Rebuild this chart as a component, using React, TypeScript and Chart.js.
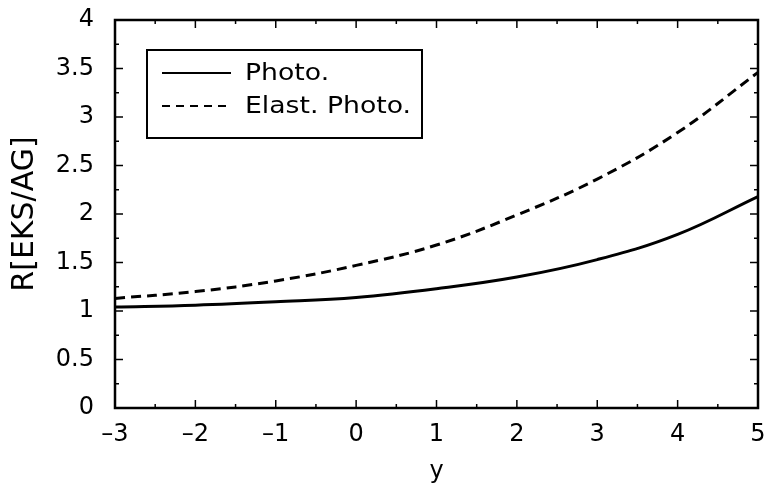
import React, { useEffect, useRef } from "react";
import { Chart, registerables } from "chart.js";

Chart.register(...registerables);

const yRapidity = [-3, -2, -1, 0, 1, 2, 3, 4, 5];
const photoValues = [1.04, 1.06, 1.095, 1.14, 1.23, 1.35, 1.53, 1.79, 2.18];
const elastPhotoValues = [1.13, 1.2, 1.31, 1.47, 1.68, 1.99, 2.36, 2.84, 3.46];
const seriesLabels = ["Photo.", "Elast. Photo."];
const xAxisTitle = "y";
const yAxisTitle = "R[EKS/AG]";

const FONT = "'DejaVu Sans', Arial, Helvetica, sans-serif";

const framePlugin = {
  id: "frameAndLegend",
  afterDraw(chart: any) {
    const { ctx, chartArea, scales } = chart;
    const { left, right, top, bottom } = chartArea;
    const xs = scales.x;
    const ys = scales.y;
    ctx.save();
    ctx.strokeStyle = "#000";
    ctx.setLineDash([]);
    ctx.lineWidth = 2.5;
    ctx.strokeRect(left, top, right - left, bottom - top);
    ctx.lineWidth = 1.5;
    const seg = (x1: number, y1: number, x2: number, y2: number) => {
      ctx.beginPath();
      ctx.moveTo(x1, y1);
      ctx.lineTo(x2, y2);
      ctx.stroke();
    };
    for (let i = 0; i <= (xs.max - xs.min) * 2; i++) {
      const v = xs.min + i * 0.5;
      const px = xs.getPixelForValue(v);
      const len = i % 2 === 0 ? 8 : 4;
      seg(px, bottom, px, bottom - len);
      seg(px, top, px, top + len);
    }
    for (let i = 0; i <= (ys.max - ys.min) * 4; i++) {
      const v = ys.min + i * 0.25;
      const py = ys.getPixelForValue(v);
      const len = i % 2 === 0 ? 8 : 4;
      seg(left, py, left + len, py);
      seg(right, py, right - len, py);
    }
    // legend box
    const bx = left + 32;
    const by = top + 30;
    const bw = 275;
    const bh = 88;
    ctx.lineWidth = 2;
    ctx.strokeRect(bx, by, bw, bh);
    const ds = chart.data.datasets;
    const rows = [by + 23, by + 56];
    ctx.font = `23px ${FONT}`;
    ctx.fillStyle = "#000";
    ctx.textBaseline = "middle";
    ctx.textAlign = "left";
    ds.forEach((d: any, i: number) => {
      ctx.lineWidth = 2;
      ctx.setLineDash(i === 0 ? [] : [8, 6]);
      seg(bx + 15, rows[i], bx + 84, rows[i]);
      ctx.setLineDash([]);
      ctx.save();
      ctx.translate(bx + 98, rows[i] + 1);
      ctx.scale(1.16, 1);
      ctx.fillText(d.label, 0, 0);
      ctx.restore();
    });
    ctx.restore();
  },
};

const zeroPad = (s: any) => {
  s.paddingTop = 0;
  s.paddingBottom = 0;
  s.paddingLeft = 0;
  s.paddingRight = 0;
};

export default function App() {
  const canvasRef = useRef<HTMLCanvasElement | null>(null);

  useEffect(() => {
    document.body.style.margin = "0";
    const canvas = canvasRef.current;
    if (!canvas) return;
    const chart = new Chart(canvas, {
      type: "line",
      data: {
        datasets: [
          {
            label: seriesLabels[0],
            data: yRapidity.map((x, i) => ({ x, y: photoValues[i] })),
            borderColor: "#000",
            borderWidth: 3,
            pointRadius: 0,
            tension: 0.4,
            fill: false,
          },
          {
            label: seriesLabels[1],
            data: yRapidity.map((x, i) => ({ x, y: elastPhotoValues[i] })),
            borderColor: "#000",
            borderWidth: 3,
            borderDash: [10, 6],
            pointRadius: 0,
            tension: 0.4,
            fill: false,
          },
        ],
      },
      options: {
        animation: false,
        responsive: true,
        maintainAspectRatio: false,
        layout: { padding: { left: 0, right: 11, top: 20, bottom: 0 } },
        plugins: { legend: { display: false }, tooltip: { enabled: false } },
        scales: {
          x: {
            type: "linear",
            min: -3,
            max: 5,
            border: { display: false },
            grid: { display: false, drawTicks: false },
            ticks: {
              stepSize: 1,
              padding: 12,
              color: "#000",
              font: { family: FONT, size: 24 },
              callback: (v: any) => (Number(v) < 0 ? "\u2013" + Math.abs(Number(v)) : String(v)),
            },
            title: {
              display: true,
              text: xAxisTitle,
              color: "#000",
              font: { family: FONT, size: 24 },
              padding: 0,
            },
            afterFit: (s: any) => {
              s.height = 78;
              zeroPad(s);
            },
          },
          y: {
            type: "linear",
            min: 0,
            max: 4,
            border: { display: false },
            grid: { display: false, drawTicks: false },
            ticks: {
              stepSize: 0.5,
              padding: 21,
              color: "#000",
              font: { family: FONT, size: 24 },
              callback: (v: any) => String(Number(v)),
            },
            title: {
              display: true,
              text: yAxisTitle,
              color: "#000",
              font: { family: FONT, size: 30 },
              padding: { top: 7, bottom: 0 },
            },
            afterFit: (s: any) => {
              s.width = 115;
              zeroPad(s);
            },
          },
        },
      },
      plugins: [framePlugin],
    });
    return () => chart.destroy();
  }, []);

  return (
    <div style={{ position: "absolute", left: 0, top: 0, width: 769, height: 486, background: "#fff" }}>
      <canvas ref={canvasRef} />
    </div>
  );
}
